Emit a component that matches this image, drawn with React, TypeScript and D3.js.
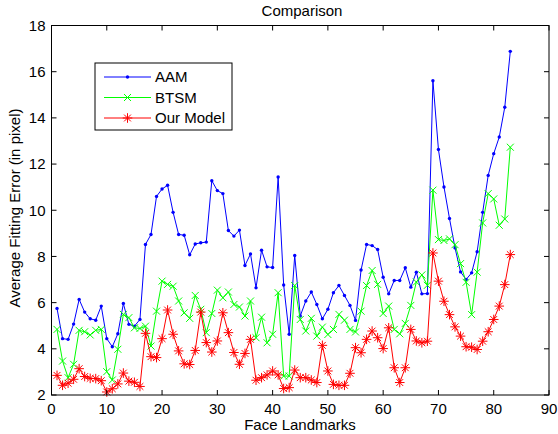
import React from 'react'
import * as d3 from 'd3'

// mean fitting error per landmark (1..83)
const aam = [
  5.75, 4.44, 4.41, 5.07, 6.14, 5.59, 5.3, 5.24, 5.85, 4.44,
  4.09, 4.65, 5.96, 5.06, 4.98, 5.27, 8.52, 8.95, 10.6, 10.92,
  11.08, 9.91, 8.95, 8.92, 8.07, 8.54, 8.59, 8.62, 11.28, 10.85,
  10.72, 9.12, 8.88, 9.14, 7.61, 8.11, 6.64, 8.27, 7.55, 7.52,
  11.44, 6.76, 4.63, 8.04, 5.42, 6.07, 6.46, 5.92, 5.3, 5.71,
  6.43, 6.74, 6.31, 5.88, 5.23, 7.41, 8.52, 8.47, 8.3, 7.1,
  6.38, 6.96, 6.96, 7.51, 6.67, 7.32, 6.38, 6.39, 15.61, 12.63,
  11.01, 9.64, 8.37, 7.33, 7.0, 7.29, 8.2, 9.91, 11.51, 12.45,
  13.17, 14.46, 16.88
]

const btsm = [
  4.84, 3.47, 2.75, 3.33, 4.8, 4.74, 4.6, 4.8, 4.84, 3.01,
  2.65, 3.98, 5.49, 5.35, 4.91, 4.88, 4.98, 4.12, 5.63, 6.93,
  6.79, 6.71, 6.07, 5.56, 5.32, 6.31, 5.71, 4.7, 5.53, 6.54,
  6.21, 6.46, 5.92, 5.81, 5.42, 6.07, 4.48, 5.37, 4.26, 4.63,
  6.43, 2.82, 2.82, 6.74, 5.27, 4.77, 5.32, 4.55, 4.94, 4.62,
  4.84, 5.49, 5.24, 4.84, 4.73, 5.63, 6.74, 7.39, 6.79, 5.53,
  5.85, 4.84, 4.65, 5.1, 5.88, 6.89, 7.2, 6.75, 10.87, 8.73,
  8.69, 8.76, 8.51, 7.69, 6.88, 5.48, 7.32, 9.45, 10.72, 10.49,
  9.35, 9.62, 12.73
]

const ourModel = [
  2.85, 2.42, 2.51, 2.68, 3.14, 2.8, 2.72, 2.71, 2.62, 2.13,
  2.27, 2.48, 2.95, 2.6, 2.55, 2.37, 4.67, 3.66, 3.62, 4.44,
  5.68, 4.63, 3.91, 3.35, 3.32, 3.93, 5.59, 4.27, 3.86, 4.34,
  5.56, 4.7, 3.84, 3.33, 3.8, 4.41, 2.64, 2.75, 2.87, 3.04,
  2.87, 2.28, 2.32, 3.08, 2.75, 2.75, 2.65, 2.54, 4.15, 3.04,
  2.46, 2.42, 2.42, 2.94, 4.05, 3.83, 4.41, 4.77, 4.48, 4.01,
  4.91, 3.18, 2.54, 3.18, 4.84, 4.34, 4.26, 4.33, 8.15, 6.93,
  6.06, 5.48, 4.95, 4.55, 4.09, 4.07, 3.97, 4.33, 4.74, 5.27,
  5.85, 6.78, 8.08
]

const xTicks = [0, 10, 20, 30, 40, 50, 60, 70, 80, 90]
const yTicks = [2, 4, 6, 8, 10, 12, 14, 16, 18]

const seriesList = [
  { name: 'AAM', values: aam, color: '#0000ff', marker: 'dot' },
  { name: 'BTSM', values: btsm, color: '#00ff00', marker: 'x' },
  { name: 'Our Model', values: ourModel, color: '#ff0000', marker: 'star' }
]

const W = 558
const H = 434
const FONT = '"Liberation Sans", Arial, Helvetica, sans-serif'
const FS = 15

const left = 51.5
const right = 549
const top = 25.5
const bottom = 395

const x = d3.scaleLinear().domain([0, 90]).range([left, right])
const y = d3.scaleLinear().domain([2, 18]).range([bottom, top])

function Marker({ kind, cx, cy, color }) {
  if (kind === 'dot') {
    return <circle cx={cx} cy={cy} r={1.7} fill={color} />
  }
  if (kind === 'x') {
    const s = 3.5
    return (
      <path
        d={`M${cx - s},${cy - s}L${cx + s},${cy + s}M${cx - s},${cy + s}L${cx + s},${cy - s}`}
        stroke={color}
        strokeWidth={1}
        fill="none"
      />
    )
  }
  // star: plus + cross
  const s = 4.8
  const d = 3.4
  return (
    <path
      d={`M${cx - s},${cy}L${cx + s},${cy}M${cx},${cy - s}L${cx},${cy + s}` +
        `M${cx - d},${cy - d}L${cx + d},${cy + d}M${cx - d},${cy + d}L${cx + d},${cy - d}`}
      stroke={color}
      strokeWidth={1}
      fill="none"
    />
  )
}

export default function App() {
  const line = d3
    .line<number>()
    .x((d, i) => x(i + 1))
    .y(d => y(d))

  const tickLen = 5

  const renderAxes = () => (
    <g>
      {xTicks.map(t => (
        <g key={'x' + t}>
          <line x1={x(t)} x2={x(t)} y1={bottom} y2={bottom - tickLen} stroke="#000" />
          <line x1={x(t)} x2={x(t)} y1={top} y2={top + tickLen} stroke="#000" />
          <text x={x(t)} y={bottom + 18.5} textAnchor="middle" fontSize={FS} fontFamily={FONT}>
            {t}
          </text>
        </g>
      ))}
      {yTicks.map(t => (
        <g key={'y' + t}>
          <line x1={left} x2={left + tickLen} y1={y(t)} y2={y(t)} stroke="#000" />
          <line x1={right} x2={right - tickLen} y1={y(t)} y2={y(t)} stroke="#000" />
          <text x={left - 6} y={y(t) + 5.3} textAnchor="end" fontSize={FS} fontFamily={FONT}>
            {t}
          </text>
        </g>
      ))}
      <rect x={left} y={top} width={right - left} height={bottom - top} fill="none" stroke="#000" />
    </g>
  )

  const renderSeries = () =>
    seriesList.map(s => (
      <g key={s.name}>
        <path d={line(s.values)} fill="none" stroke={s.color} strokeWidth={1} />
        {s.values.map((v, i) => (
          <Marker key={i} kind={s.marker} cx={x(i + 1)} cy={y(v)} color={s.color} />
        ))}
      </g>
    ))

  const renderLegend = () => {
    const lx = 95
    const ly = 63
    return (
      <g>
        <rect x={lx} y={ly} width={137} height={67} fill="#fff" stroke="#000" />
        {seriesList.map((s, i) => {
          const cy = ly + 14 + i * 20.5
          return (
            <g key={s.name}>
              <line x1={lx + 9} x2={lx + 56} y1={cy} y2={cy} stroke={s.color} />
              <Marker kind={s.marker} cx={lx + 32.5} cy={cy} color={s.color} />
              <text x={lx + 60} y={cy + 5.3} fontSize={FS} fontFamily={FONT}>
                {s.name}
              </text>
            </g>
          )
        })}
      </g>
    )
  }

  return (
    <svg
      width={W}
      height={H}
      style={{ position: 'absolute', left: 0, top: 0, background: '#fff' }}
    >
      <rect width={W} height={H} fill="#fff" />
      {renderSeries()}
      {renderAxes()}
      {renderLegend()}
      <text x={302} y={16} textAnchor="middle" fontSize={FS} fontFamily={FONT}>
        Comparison
      </text>
      <text x={300} y={430} textAnchor="middle" fontSize={FS} fontFamily={FONT}>
        Face Landmarks
      </text>
      <text
        transform={`translate(19.5,208) rotate(-90)`}
        textAnchor="middle"
        fontSize={FS}
        fontFamily={FONT}
      >
        Average Fitting Error (in pixel)
      </text>
    </svg>
  )
}
